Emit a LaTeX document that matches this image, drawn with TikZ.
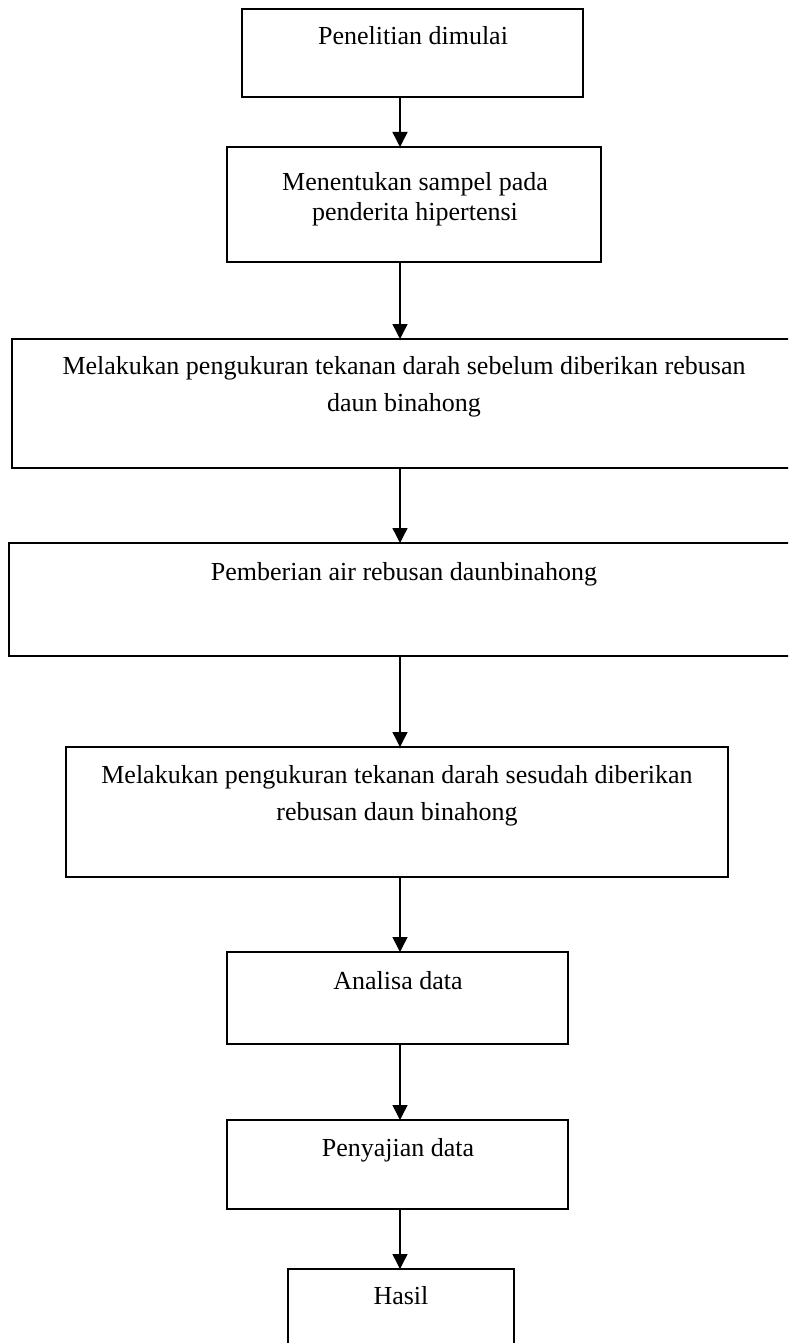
\documentclass[tikz,border=0pt]{standalone}
\usepackage{fontspec}
\setmainfont{Liberation Serif}
\usetikzlibrary{arrows.meta}
\begin{document}
\begin{tikzpicture}[x=1pt,y=-1pt,
  stepbox/.style={draw, line width=1.5pt, inner sep=0pt, outer sep=0pt},
  lbl/.style={anchor=base, align=center, inner sep=0pt, font=\fontsize{26}{37}\selectfont},
  flow/.style={line width=1.4pt, -{Triangle[length=15pt,width=15pt]}}]
\useasboundingbox (0,0) rectangle (788,1343);
\clip (0,0) rectangle (788,1343);
\coordinate (ax) at (400,0);
\node[stepbox, minimum width=341pt, minimum height=88pt]  (b1) at (412.5,53) {};
\node[stepbox, minimum width=374pt, minimum height=115pt] (b2) at (414,204.5) {};
\node[stepbox, minimum width=784pt, minimum height=129pt] (b3) at (404,403.5) {};
\node[stepbox, minimum width=791pt, minimum height=113pt] (b4) at (404.5,599.5) {};
\node[stepbox, minimum width=662pt, minimum height=130pt] (b5) at (397,812) {};
\node[stepbox, minimum width=341pt, minimum height=92pt]  (b6) at (397.5,998) {};
\node[stepbox, minimum width=341pt, minimum height=89pt]  (b7) at (397.5,1164.5) {};
\node[stepbox, minimum width=226pt, minimum height=90pt]  (b8) at (401,1314) {};

\node[lbl] (t1) at (413,45) {Penelitian dimulai};
\node[lbl, font=\fontsize{26}{30}\selectfont] (t2) at (415,220) {Menentukan sampel pada\\penderita hipertensi};
\node[lbl] (t3) at (404,411) {Melakukan pengukuran tekanan darah sebelum diberikan rebusan\\daun binahong};
\node[lbl] (t4) at (404,580) {Pemberian air rebusan daunbinahong};
\node[lbl] (t5) at (397,820) {Melakukan pengukuran tekanan darah sesudah diberikan\\rebusan daun binahong};
\node[lbl] (t6) at (398,989) {Analisa data};
\node[lbl] (t7) at (398,1156) {Penyajian data};
\node[lbl] (t8) at (401,1304) {Hasil};

\draw[flow] (b1.south -| ax) -- (b2.north -| ax);
\draw[flow] (b2.south -| ax) -- (b3.north -| ax);
\draw[flow] (b3.south -| ax) -- (b4.north -| ax);
\draw[flow] (b4.south -| ax) -- (b5.north -| ax);
\draw[flow] (b5.south -| ax) -- (b6.north -| ax);
\draw[flow] (b6.south -| ax) -- (b7.north -| ax);
\draw[flow] (b7.south -| ax) -- (b8.north -| ax);
\end{tikzpicture}
\end{document}
